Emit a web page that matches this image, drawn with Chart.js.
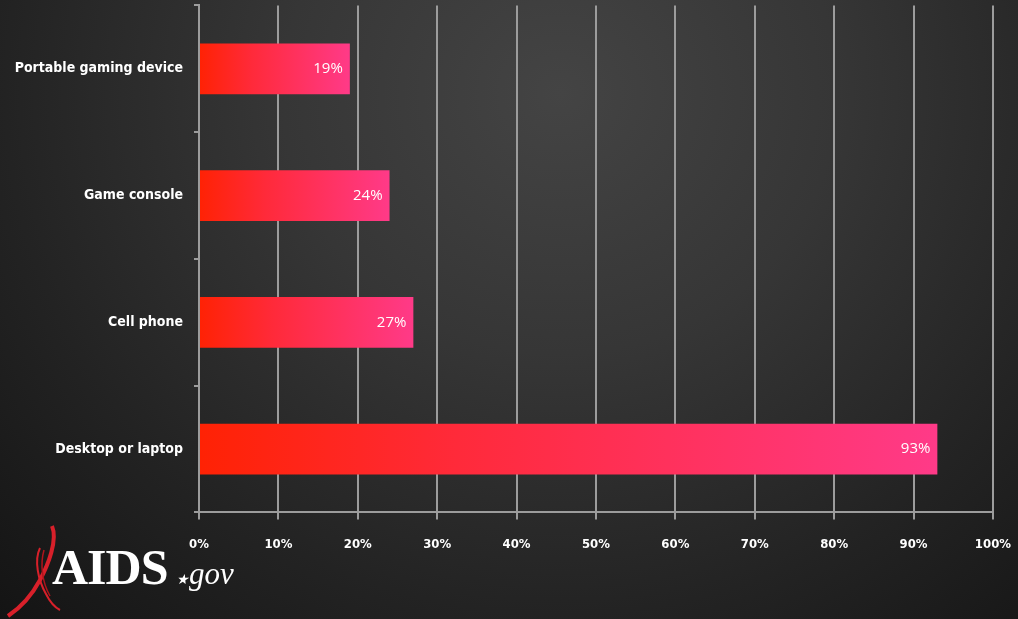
<!DOCTYPE html>
<html>
<head>
<meta charset="utf-8">
<script src="https://cdn.jsdelivr.net/npm/chart.js@4"></script>
<style>
  html, body { margin: 0; padding: 0; }
  body {
    width: 1018px; height: 619px; overflow: hidden; position: relative;
    background: radial-gradient(ellipse at 55% 15%, #444 0%, #363636 35%, #232323 70%, #141414 100%);
  }
  #wrap { position: absolute; left: 0; top: -14px; width: 1028px; height: 633px; }
  #logo { position: absolute; left: 0; top: 520px; width: 260px; height: 99px; }
  #logo svg { position: absolute; left: 0; top: 0; }
  #logo .aids {
    position: absolute; left: 52px; top: 22px; line-height: 1;
    font-family: "Liberation Serif", serif; font-weight: bold; font-size: 50px; color: #fff;
    letter-spacing: -1px;
  }
  #logo .gov {
    position: absolute; left: 176px; top: 38px; line-height: 1;
    font-family: "Liberation Serif", serif; font-style: italic; font-size: 31px; color: #fff;
  }
</style>
</head>
<body>
<div id="wrap"><canvas id="chart" width="1028" height="633"></canvas></div>
<div id="logo">
  <svg width="260" height="99">
    <path d="M52 6 C58 20 48 45 40 60 C32 75 20 88 8 96" stroke="#d8202a" stroke-width="4" fill="none"/>
    <path d="M40 28 C34 40 38 60 46 74 C50 82 56 88 60 90" stroke="#d8202a" stroke-width="2" fill="none"/>
    <path d="M44 30 C40 44 42 62 50 76" stroke="#b0141c" stroke-width="1.5" fill="none"/>
  </svg>
  <span class="aids">AIDS</span>
  <span class="gov"><small style="font-size:14px">&#9733;</small>gov</span>
</div>
<script>
const categories = ["Portable gaming device", "Game console", "Cell phone", "Desktop or laptop"];
const shares = [19, 24, 27, 93];
const xTicks = [0, 10, 20, 30, 40, 50, 60, 70, 80, 90, 100];

const gridGray = "#9c9c9c";

function barFill(context) {
  const chart = context.chart;
  const area = chart.chartArea;
  if (!area) return "#ff2a20";
  const xs = chart.scales.x;
  const v = context.raw;
  const x0 = xs.getPixelForValue(0);
  const x1 = xs.getPixelForValue(v);
  const g = chart.ctx.createLinearGradient(x0, 0, x1, 0);
  g.addColorStop(0, "#ff2204");
  g.addColorStop(0.35, "#ff2a3a");
  g.addColorStop(1, "#ff3a88");
  return g;
}

const valueLabels = {
  id: "valueLabels",
  afterDatasetsDraw(chart) {
    const ctx = chart.ctx;
    const meta = chart.getDatasetMeta(0);
    ctx.save();
    ctx.font = "15px 'Open Sans', sans-serif";
    ctx.fillStyle = "#ffffff";
    ctx.textAlign = "right";
    ctx.textBaseline = "middle";
    meta.data.forEach((bar, i) => {
      ctx.fillText(shares[i] + "%", bar.x - 7, bar.y);
    });
    ctx.restore();
  }
};

new Chart(document.getElementById("chart"), {
  type: "bar",
  data: {
    labels: categories,
    datasets: [{
      data: shares,
      backgroundColor: barFill,
      borderWidth: 0,
      barPercentage: 0.4,
      categoryPercentage: 1
    }]
  },
  options: {
    indexAxis: "y",
    responsive: false,
    animation: false,
    layout: { padding: { top: 0, right: 17, bottom: 50, left: 0 } },
    plugins: { legend: { display: false }, tooltip: { enabled: false } },
    scales: {
      x: {
        min: 0,
        max: 100,
        afterBuildTicks(scale) {
          scale.ticks = xTicks.map(v => ({ value: v }));
        },
        grid: { color: gridGray, lineWidth: 2, tickLength: 7, tickColor: gridGray },
        border: { color: gridGray, width: 2 },
        ticks: {
          color: "#ffffff",
          padding: 17,
          maxRotation: 0,
          font: { family: "'DejaVu Sans Condensed', sans-serif", weight: "bold", size: 13 },
          callback: v => v + "%"
        }
      },
      y: {
        offset: true,
        afterFit(scale) { scale.width = 199; },
        grid: { offset: true, drawOnChartArea: false, drawTicks: true, tickLength: 5, color: gridGray, lineWidth: 2 },
        border: { color: gridGray, width: 2 },
        ticks: {
          color: "#ffffff",
          padding: 11,
          font: { family: "'DejaVu Sans Condensed', sans-serif", weight: "bold", size: 14 }
        }
      }
    }
  },
  plugins: [valueLabels]
});
</script>
</body>
</html>
